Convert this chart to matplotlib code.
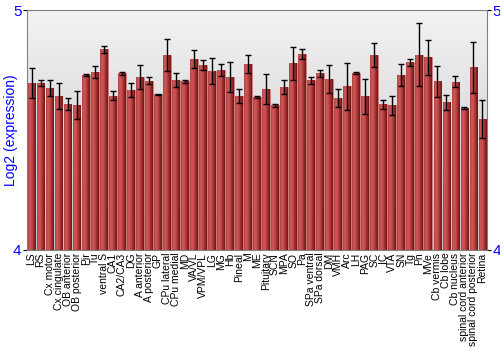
import numpy as np
import matplotlib
matplotlib.use('Agg')
import matplotlib.pyplot as plt
from matplotlib.colors import LinearSegmentedColormap

regions = ['LS', 'RS', 'Cx motor', 'Cx cingulate', 'OB anterior', 'OB posterior',
           'Pir', 'Tu', 'ventral S', 'CA1', 'CA2/CA3', 'DG', 'A anterior',
           'A posterior', 'GP', 'CPu lateral', 'CPu medial', 'MD', 'VA/VL',
           'VPM/VPL', 'LG', 'MG', 'Hb', 'Pineal', 'M', 'ME', 'Pituitary', 'SCN',
           'MPA', 'SO', 'Pa', 'SPa ventral', 'SPa dorsal', 'DM', 'VMH', 'Arc',
           'LH', 'PAG', 'SC', 'IC', 'VTA', 'SN', 'Tg', 'Pn', 'MVe', 'Cb vermis',
           'Cb lobe', 'Cb nucleus', 'spinal cord anterior',
           'spinal cord posterior', 'Retina']

expr = [4.695, 4.697, 4.674, 4.643, 4.607, 4.603, 4.730, 4.742, 4.836, 4.643,
        4.736, 4.667, 4.720, 4.705, 4.649, 4.812, 4.710, 4.703, 4.795, 4.771,
        4.746, 4.749, 4.721, 4.642, 4.775, 4.637, 4.670, 4.603, 4.679, 4.778,
        4.817, 4.708, 4.737, 4.712, 4.633, 4.682, 4.736, 4.640, 4.812, 4.607,
        4.604, 4.730, 4.782, 4.815, 4.803, 4.704, 4.615, 4.701, 4.592, 4.761,
        4.545]

err = [0.062, 0.012, 0.033, 0.054, 0.025, 0.058, 0.004, 0.025, 0.015, 0.019,
       0.006, 0.029, 0.050, 0.015, 0.003, 0.066, 0.029, 0.007, 0.037, 0.021,
       0.055, 0.025, 0.062, 0.030, 0.037, 0.003, 0.062, 0.005, 0.030, 0.070,
       0.021, 0.014, 0.015, 0.059, 0.037, 0.097, 0.004, 0.074, 0.049, 0.020,
       0.040, 0.047, 0.016, 0.130, 0.074, 0.065, 0.030, 0.023, 0.005, 0.107,
       0.080]

ymin, ymax = 4, 5
blue = '#0000ff'

plt.rcParams['font.family'] = ['Liberation Sans', 'DejaVu Sans']

fig = plt.figure(figsize=(5, 3.5), dpi=100)
ax = fig.add_axes([0.054, 0.286, 0.92, 0.685])

x = np.arange(len(regions))
ax.set_xlim(-0.5, len(regions) - 0.5)
ax.set_ylim(ymin, ymax)

# plot background gradient
bg = LinearSegmentedColormap.from_list('bg', ['#c4c4c4', '#f3f3f3'])
ax.imshow(np.linspace(0, 1, 256).reshape(-1, 1), cmap=bg, aspect='auto',
          extent=[0, 1, 0, 1], transform=ax.transAxes, origin='lower', zorder=0)

# bars with a horizontal shading
bar_cmap = LinearSegmentedColormap.from_list(
    'bar', ['#b04040', '#d05a5a', '#c04848', '#9a2a2a', '#701515'])
grad = np.linspace(0, 1, 64).reshape(1, -1)
bars = ax.bar(x, np.array(expr) - ymin, bottom=ymin, width=0.86,
              color='#a83232', edgecolor='#d08080', linewidth=0.4, zorder=2)
for b in bars:
    im = ax.imshow(grad, cmap=bar_cmap, aspect='auto', zorder=2.1,
                   extent=[b.get_x(), b.get_x() + b.get_width(),
                           ymin, ymin + b.get_height()])
    im.set_clip_path(b)

ax.errorbar(x, expr, yerr=err, fmt='none', ecolor='black', elinewidth=1,
            capsize=2, capthick=1, zorder=3)

ax.set_xticks(x)
ax.set_xticklabels(regions, rotation=90, fontsize=7.5)
ax.tick_params(axis='x', length=0, pad=2)

ax.set_yticks([4, 5])
ax.set_yticklabels(['4', '5'], fontsize=11, color=blue)
ax.tick_params(axis='y', length=3, pad=1, right=True, labelright=True)
ax.set_ylabel('Log2 (expression)', color=blue, fontsize=10, labelpad=-4)

for s in ax.spines.values():
    s.set_color('#808080')

fig.savefig('out.png', dpi=100)
